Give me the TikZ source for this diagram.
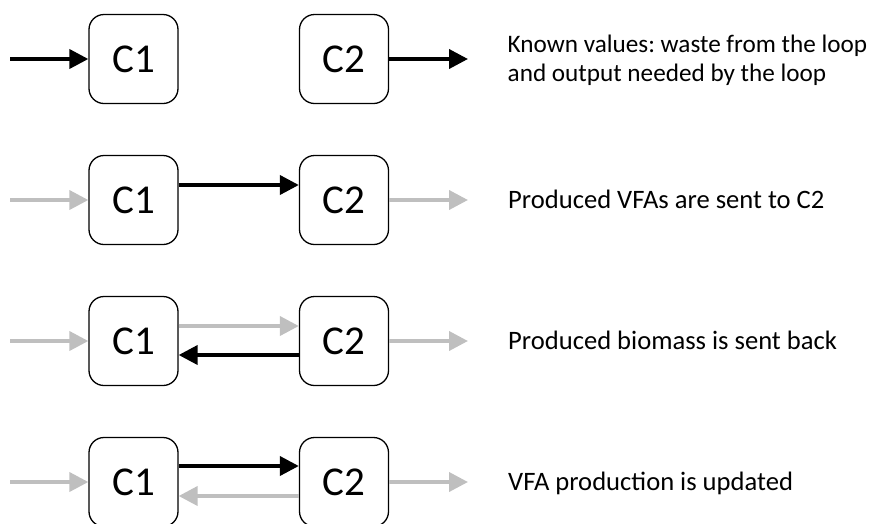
\documentclass[tikz,border=0pt]{standalone}
\usepackage{fontspec}
\setmainfont{Carlito}
\usetikzlibrary{arrows.meta}
\definecolor{lightarrow}{RGB}{191,191,191}
\frenchspacing
\begin{document}
\begin{tikzpicture}[x=1pt,y=-1pt,
  cbox/.style={draw=black, line width=1.3pt, rounded corners=15pt, minimum width=89pt, minimum height=89pt, inner sep=0pt, font=\fontsize{41}{48}\selectfont},
  blackarrow/.style={draw=black, line width=3.8pt, -{Triangle[length=19pt,width=19pt]}},
  grayarrow/.style={draw=lightarrow, line width=3.8pt, -{Triangle[length=19pt,width=19pt]}},
  desc/.style={anchor=base west, inner sep=0pt, font=\fontsize{26.6}{29.4}\selectfont, align=left},
  desctop/.style={desc, font=\fontsize{25.2}{29.4}\selectfont}]
\useasboundingbox (0,0) rectangle (875,523);
% Row 1
\node[cbox] (a1) at (133.5,59) {C1};
\node[cbox] (b1) at (344,59) {C2};
\coordinate (ain1) at (10,59);
\coordinate (bout1) at (468,59);
\draw[blackarrow] (ain1) -- (a1.west);
\draw[blackarrow] (b1.east) -- (bout1);
\node[desctop] (t1) at (507.5,52.3) {Known values: waste from the loop};
\node[desctop] (t1b) at (507.5,81.7) {and output needed by the loop};
% Row 2
\node[cbox] (a2) at (133.5,200) {C1};
\node[cbox] (b2) at (344,200) {C2};
\coordinate (ain2) at (10,200);
\coordinate (bout2) at (468,200);
\draw[grayarrow] (ain2) -- (a2.west);
\draw[grayarrow] (b2.east) -- (bout2);
\draw[blackarrow] ([yshift=15pt]a2.east) -- ([yshift=15pt]b2.west);
\node[desc] (t2) at (508,208) {Produced VFAs are sent to C2};
% Row 3
\node[cbox] (a3) at (133.5,341) {C1};
\node[cbox] (b3) at (344,341) {C2};
\coordinate (ain3) at (10,341);
\coordinate (bout3) at (468,341);
\draw[grayarrow] (ain3) -- (a3.west);
\draw[grayarrow] (b3.east) -- (bout3);
\draw[grayarrow] ([yshift=15pt]a3.east) -- ([yshift=15pt]b3.west);
\draw[blackarrow] ([yshift=-14pt]b3.west) -- ([yshift=-14pt]a3.east);
\node[desc] (t3) at (508,349) {Produced biomass is sent back};
% Row 4
\node[cbox] (a4) at (133.5,482) {C1};
\node[cbox] (b4) at (344,482) {C2};
\coordinate (ain4) at (10,482);
\coordinate (bout4) at (468,482);
\draw[grayarrow] (ain4) -- (a4.west);
\draw[grayarrow] (b4.east) -- (bout4);
\draw[blackarrow] ([yshift=16pt]a4.east) -- ([yshift=16pt]b4.west);
\draw[grayarrow] ([yshift=-14pt]b4.west) -- ([yshift=-14pt]a4.east);
\node[desc] (t4) at (508,490) {VFA production is updated};
\end{tikzpicture}
\end{document}
